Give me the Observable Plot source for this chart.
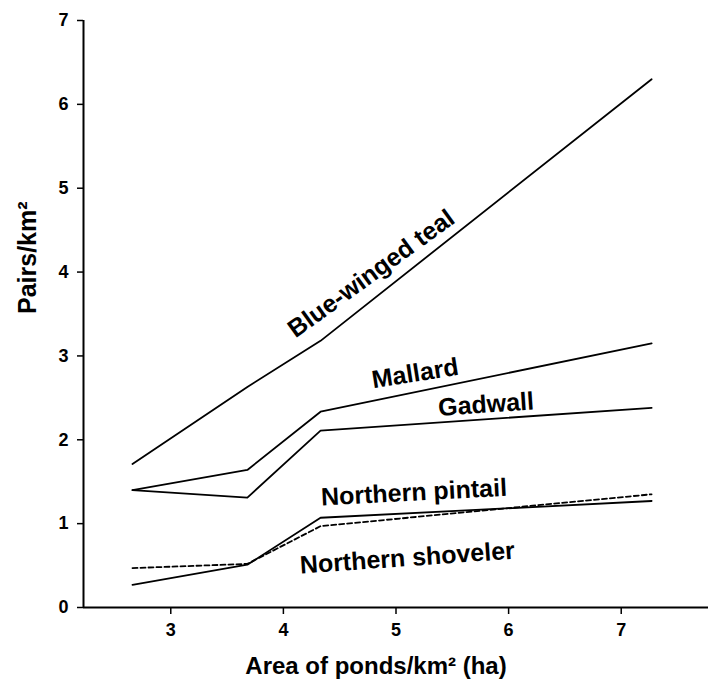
<!DOCTYPE html>
<html>
<head>
<meta charset="utf-8">
<script src="https://cdn.jsdelivr.net/npm/d3@7"></script>
<script src="https://cdn.jsdelivr.net/npm/@observablehq/plot@0.6"></script>
<style>
  html, body { margin: 0; padding: 0; background: #fff; }
  #chart { width: 708px; height: 680px; }
</style>
</head>
<body>
<div id="chart"></div>
<script>
// Data
const areaOfPonds = [2.66, 3.68, 4.33, 7.27];           // x: area of ponds/km² (ha)
const blueWingedTeal   = [1.71, 2.63, 3.18, 6.30];
const mallard          = [1.40, 1.64, 2.335, 3.15];
const gadwall          = [1.40, 1.31, 2.11, 2.38];
const northernPintail  = [0.27, 0.51, 1.07, 1.27];
const northernShoveler = [0.47, 0.52, 0.97, 1.35];

const speciesNames = ["Blue-winged teal", "Mallard", "Gadwall", "Northern pintail", "Northern shoveler"];
const xTicks = [3, 4, 5, 6, 7];
const yTicks = [0, 1, 2, 3, 4, 5, 6, 7];

const xTitle = "Area of ponds/km\u00B2 (ha)";
const yTitle = "Pairs/km\u00B2";

const seriesValues = [blueWingedTeal, mallard, gadwall, northernPintail, northernShoveler];
const rows = [];
speciesNames.forEach((name, i) => {
  areaOfPonds.forEach((x, j) => rows.push({species: name, x, y: seriesValues[i][j]}));
});
const solidRows = rows.filter(d => d.species !== "Northern shoveler");
const dashedRows = rows.filter(d => d.species === "Northern shoveler");

// label anchors (data coordinates) and orientation
const labels = [
  {text: "Blue-winged teal", x: 4.78, y: 3.98, angle: -36},
  {text: "Mallard", x: 5.17, y: 2.79, angle: -9},
  {text: "Gadwall", x: 5.80, y: 2.42, angle: -4},
  {text: "Northern pintail", x: 5.16, y: 1.37, angle: -3},
  {text: "Northern shoveler", x: 5.10, y: 0.59, angle: -4}
];

const xMin = 2.225, xMax = 7.775;
const FONT = "'Liberation Sans', Arial, Helvetica, sans-serif";

const chart = Plot.plot({
  width: 708,
  height: 680,
  marginLeft: 83,
  marginRight: 0,
  marginTop: 20,
  marginBottom: 73,
  style: {fontFamily: FONT, fontWeight: "bold", fontSize: "18px", background: "#fff", color: "#000"},
  x: {domain: [xMin, xMax]},
  y: {domain: [0, 7]},
  marks: [
    Plot.ruleY([0], {strokeWidth: 2}),
    Plot.ruleX([xMin], {y1: 0, y2: 7, strokeWidth: 2}),
    Plot.axisX({ticks: xTicks, tickFormat: d3.format("d"), tickSize: 7, tickPadding: 9, fontSize: 18, fontWeight: "bold", label: null, strokeWidth: 1.5}),
    Plot.axisY({ticks: yTicks, tickFormat: d3.format("d"), tickSize: 6, tickPadding: 9, fontSize: 18, fontWeight: "bold", label: null, strokeWidth: 1.5}),
    Plot.line(solidRows, {x: "x", y: "y", z: "species", stroke: "#000", strokeWidth: 1.8}),
    Plot.line(dashedRows, {x: "x", y: "y", stroke: "#000", strokeWidth: 1.8, strokeDasharray: "5,3"}),
    Plot.text(labels, {x: "x", y: "y", text: "text", rotate: "angle", fontSize: 25, fontWeight: "bold", fill: "#000", textAnchor: "middle", lineAnchor: "middle"}),
    Plot.text([xTitle], {frameAnchor: "bottom", dx: -20, dy: 59, fontSize: 24, fontWeight: "bold", fill: "#000", lineAnchor: "middle"}),
    Plot.text([yTitle], {frameAnchor: "left", dx: -55.5, rotate: -90, fontSize: 25, fontWeight: "bold", fill: "#000", lineAnchor: "middle"})
  ]
});
document.getElementById("chart").appendChild(chart);
</script>
</body>
</html>
